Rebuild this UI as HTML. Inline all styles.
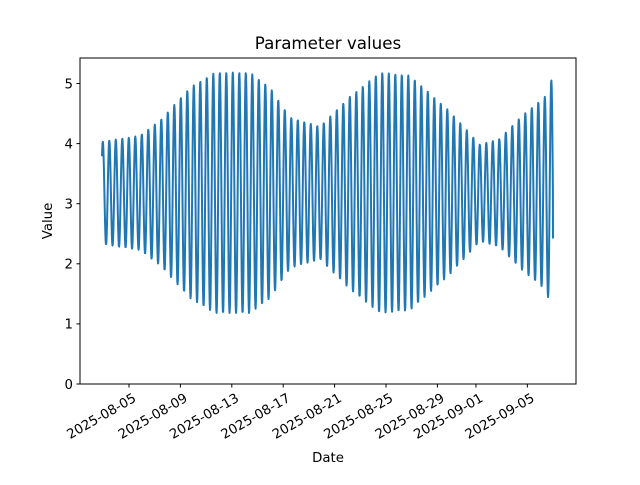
<!DOCTYPE html>
<html><head><meta charset="utf-8"><style>
body{margin:0;background:#fff;}
svg text{font-family:"DejaVu Sans","Liberation Sans",sans-serif;fill:#000;}
</style></head><body>
<svg id="s" width="640" height="480" xmlns="http://www.w3.org/2000/svg">
<rect width="640" height="480" fill="#fff"/>
<text x="328" y="49" font-size="16.7" text-anchor="middle">Parameter values</text>
<g id="yt" font-size="13.3"></g>
<g id="xt" font-size="13.3"></g>
<path id="p" fill="none" stroke="#1f77b4" stroke-width="2" stroke-linejoin="round"/>
<rect x="80" y="58" width="496" height="326" fill="none" stroke="#000" stroke-width="1"/>
<text x="328" y="462" font-size="13.3" text-anchor="middle">Date</text>
<text transform="translate(52,221) rotate(-90)" font-size="13.3" text-anchor="middle">Value</text>
</svg>
<script>
function Y(v){return 384-v*60.1;}
var yt=document.getElementById('yt'),h='';
for(var i=0;i<=5;i++){var y=Y(i);h+='<line x1="76.5" x2="80" y1="'+y+'" y2="'+y+'" stroke="#000"/><text x="73" y="'+(y+4.8)+'" text-anchor="end">'+i+'</text>';}
yt.innerHTML=h;
var labs=[["2025-08-05",0],["2025-08-09",4],["2025-08-13",8],["2025-08-17",12],["2025-08-21",16],["2025-08-25",20],["2025-08-29",24],["2025-09-01",27],["2025-09-05",31]];
h='';
labs.forEach(function(l){var x=129+l[1]*12.85;h+='<line x1="'+x+'" x2="'+x+'" y1="384" y2="387.5" stroke="#000"/><text transform="translate('+(x+3)+',392) rotate(-30)" text-anchor="end" dy="0.75em">'+l[0]+'</text>';});
document.getElementById('xt').innerHTML=h;
var cp=[[102,0.85],[140,0.95],[160,1.2],[190,1.75],[215,2.0],[250,2.0],[270,1.75],[290,1.25],[320,1.1],[350,1.6],[380,2.0],[410,1.95],[450,1.35],[480,0.8],[500,0.9],[520,1.25],[545,1.6],[553,1.95]];
function amp(x){for(var i=0;i<cp.length-1;i++){if(x<=cp[i+1][0]){var t=(x-cp[i][0])/(cp[i+1][0]-cp[i][0]);return cp[i][1]+t*(cp[i+1][1]-cp[i][1]);}}return cp[cp.length-1][1];}
var d='',per=6.5,x0=102;
for(var x=102;x<=553;x+=0.3){var ph=(x-x0)/per*2*Math.PI+0.8;var v=3.18+amp(x)*Math.sin(ph);d+=(d?'L':'M')+x.toFixed(2)+','+Y(v).toFixed(2);}
d+='L553,'+Y(2.42);
document.getElementById('p').setAttribute('d',d);
</script>
</body></html>
